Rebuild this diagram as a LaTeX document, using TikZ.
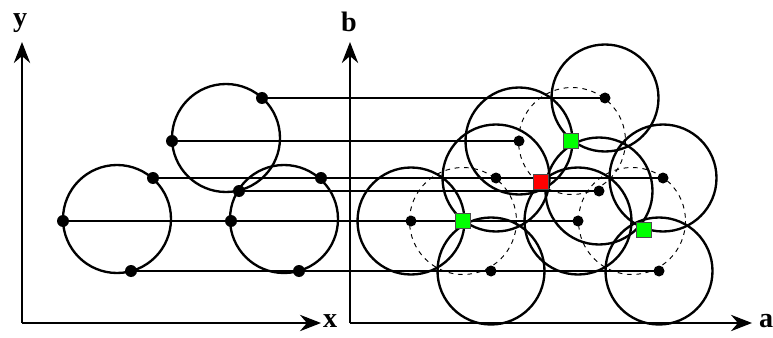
\documentclass[tikz,border=0pt]{standalone}
\usepackage{fontspec}
\setmainfont{Liberation Serif}
\usepackage{tikz}
\usetikzlibrary{arrows.meta}
\definecolor{verde}{HTML}{00FF00}
\definecolor{rosso}{HTML}{FF0000}
\tikzset{
    asse/.style={line width=1.1pt, -{Stealth[length=18pt, width=14pt, inset=6pt]}},
    cerchio/.style={line width=2pt},
    tratteggio/.style={line width=0.8pt, dash pattern=on 4pt off 4pt},
    proiezione/.style={line width=0.9pt},
    etichetta/.style={anchor=base west, inner sep=0pt, font=\fontsize{24}{24}\selectfont\bfseries},
    quadrato/.style={rectangle, draw=black!70, line width=0.8pt, minimum size=0.46cm, inner sep=0pt}
}

\begin{document}
\begin{tikzpicture}[x=0.03cm, y=-0.03cm]
        \useasboundingbox (0,0) rectangle (773,338);
        % assi
        \coordinate (O1) at (22,323);
        \coordinate (Y1) at (22,42);
        \coordinate (X1) at (321,323);
        \coordinate (O2) at (350,323);
        \coordinate (Y2) at (350,42);
        \coordinate (X2) at (752,323);
        \draw[asse] (O1) -- (Y1);
        \draw[asse] (O1) -- (X1);
        \draw[asse] (O2) -- (Y2);
        \draw[asse] (O2) -- (X2);
        % cerchi nel piano x-y
        \coordinate (cA) at (117,219);
        \coordinate (cB) at (226,138);
        \coordinate (cC) at (284,219);
        \draw[cerchio] (cA) circle[radius=54];
        \draw[cerchio] (cB) circle[radius=54];
        \draw[cerchio] (cC) circle[radius=54];
        % punti sui cerchi
        \coordinate (pA1) at (63,221);
        \coordinate (pA2) at (153,178);
        \coordinate (pA3) at (131,271);
        \coordinate (pB1) at (172,141);
        \coordinate (pB2) at (262,98);
        \coordinate (pB3) at (239,191);
        \coordinate (pC1) at (231,221);
        \coordinate (pC2) at (321,178);
        \coordinate (pC3) at (299,271);
        % immagini nel piano a-b
        \coordinate (qA1) at (411,221);
        \coordinate (qA2) at (496,178);
        \coordinate (qA3) at (491,271);
        \coordinate (qB1) at (519,141);
        \coordinate (qB2) at (605,98);
        \coordinate (qB3) at (599,191);
        \coordinate (qC1) at (578,221);
        \coordinate (qC2) at (663,178);
        \coordinate (qC3) at (659,271);
        % cerchi tratteggiati
        \coordinate (dA) at (463,221);
        \coordinate (dB) at (572,141);
        \coordinate (dC) at (632,221);
        \draw[tratteggio] (dA) circle[radius=53.5];
        \draw[tratteggio] (dB) circle[radius=53.5];
        \draw[tratteggio] (dC) circle[radius=53.5];
        % cerchi nel piano a-b
        \draw[cerchio] (qA1) circle[radius=53.5];
        \draw[cerchio] (qA2) circle[radius=53.5];
        \draw[cerchio] (qA3) circle[radius=53.5];
        \draw[cerchio] (qB1) circle[radius=53.5];
        \draw[cerchio] (qB2) circle[radius=53.5];
        \draw[cerchio] (qB3) circle[radius=53.5];
        \draw[cerchio] (qC1) circle[radius=53.5];
        \draw[cerchio] (qC2) circle[radius=53.5];
        \draw[cerchio] (qC3) circle[radius=53.5];
        % proiezioni orizzontali
        \draw[proiezione] (pA1) -- (qA1);
        \draw[proiezione] (pA2) -- (qA2);
        \draw[proiezione] (pA3) -- (qA3);
        \draw[proiezione] (pB1) -- (qB1);
        \draw[proiezione] (pB2) -- (qB2);
        \draw[proiezione] (pB3) -- (qB3);
        \draw[proiezione] (pC1) -- (qC1);
        \draw[proiezione] (pC2) -- (qC2);
        \draw[proiezione] (pC3) -- (qC3);
        % punti
        \fill (pA1) circle[radius=6];
        \fill (pA2) circle[radius=6];
        \fill (pA3) circle[radius=6];
        \fill (pB1) circle[radius=6];
        \fill (pB2) circle[radius=6];
        \fill (pB3) circle[radius=6];
        \fill (pC1) circle[radius=6];
        \fill (pC2) circle[radius=6];
        \fill (pC3) circle[radius=6];
        \fill (qA1) circle[radius=5.5];
        \fill (qA2) circle[radius=5.5];
        \fill (qA3) circle[radius=5.5];
        \fill (qB1) circle[radius=5.5];
        \fill (qB2) circle[radius=5.5];
        \fill (qB3) circle[radius=5.5];
        \fill (qC1) circle[radius=5.5];
        \fill (qC2) circle[radius=5.5];
        \fill (qC3) circle[radius=5.5];
        % soluzioni
        \node[quadrato, fill=verde] (s1) at (463,221) {};
        \node[quadrato, fill=verde] (s2) at (571,141) {};
        \node[quadrato, fill=verde] (s3) at (644,230) {};
        \node[quadrato, fill=rosso] (s4) at (541,182) {};
        % etichette
        \node[etichetta] (ly) at (13,27) {y};
        \node[etichetta] (lx) at (323,327) {x};
        \node[etichetta] (lb) at (341,32) {b};
        \node[etichetta] (la) at (759,327) {a};
    \end{tikzpicture}
\end{document}
